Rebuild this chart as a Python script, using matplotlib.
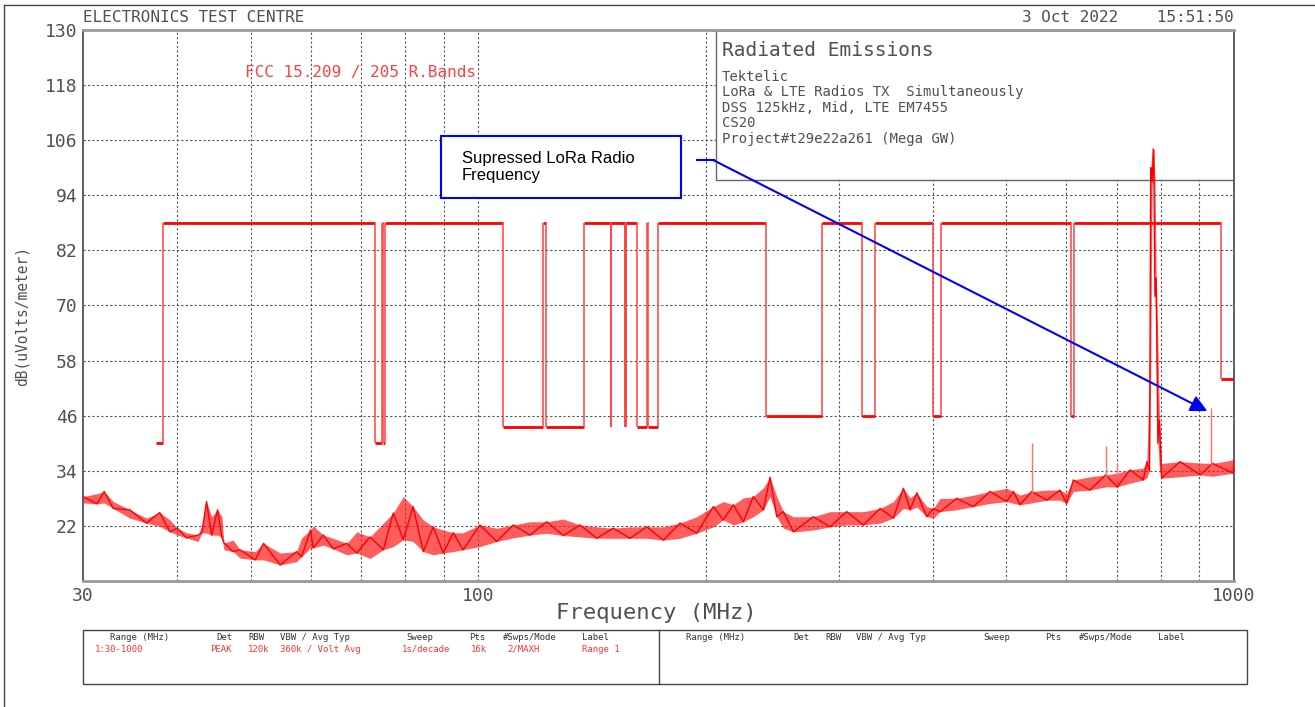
import numpy as np
import matplotlib.pyplot as plt
from matplotlib.patches import Rectangle
from matplotlib.lines import Line2D

W, H = 1315, 707
MONO = 'DejaVu Sans Mono'

trace_mhz = [30, 31.3, 32.0, 32.9, 34.6, 36.4, 37.9, 39.1, 40.0, 41.1, 42.6, 43.1,
             43.7, 44.4, 45.2, 45.8, 46.1, 47.4, 48.4, 50.7, 52.0, 54.7, 57.5, 58.4,
             60.0, 60.5, 62.4, 64.3, 67.0, 69.1, 71.9, 74.9, 77.2, 79.6, 82.0, 84.6,
             87.2, 89.9, 92.7, 95.5, 100.5, 105.8, 111.3, 117.1, 123.2, 129.6, 136.4,
             143.5, 150.9, 158.8, 167.1, 175.8, 184.9, 194.6, 204.7, 211.0, 217.6,
             224.3, 231.2, 238.4, 243.3, 248.3, 253.4, 261.2, 277.6, 292.1, 307.3,
             323.3, 340.3, 354.3, 365.2, 372.8, 380.5, 392.2, 400.1, 408.4, 429.6,
             452.1, 475.6, 500.4, 510.6, 521.1, 540, 565.2, 588.6, 600.6, 612.9,
             644.8, 676.6, 700.8, 728.5, 758.6, 767, 773, 776, 779, 783, 786, 789,
             793, 797, 802, 848.4, 901.9, 937, 997.8, 1000]
trace_lo = [27.0, 26.8, 27.0, 25.8, 23.7, 22.6, 21.9, 20.7, 20.0, 19.4, 18.6, 20.5,
            20.4, 20.0, 20.0, 19.5, 16.8, 16.4, 15.0, 14.6, 14.6, 13.5, 14.2, 15.3,
            17.2, 17.2, 17.8, 17.0, 15.7, 16.1, 14.9, 16.8, 17.5, 19.0, 18.6, 16.4,
            15.7, 16.1, 16.4, 16.8, 17.5, 18.6, 19.4, 20.0, 20.4, 19.9, 19.6,
            19.3, 19.3, 19.3, 19.3, 18.9, 19.3, 20.4, 21.8, 23.3, 22.2,
            22.9, 24.0, 25.5, 28.4, 24.0, 21.5, 20.7, 21.1, 21.8, 22.2,
            22.2, 22.6, 23.7, 25.8, 25.5, 26.1, 24.0, 23.7, 25.1, 25.5,
            26.2, 26.9, 27.3, 26.9, 26.6, 27.0, 27.6, 27.6, 26.9, 29.5,
            29.8, 30.5, 30.5, 31.3, 32.0, 32.5, 34.0, 55.0, 97.0, 96.0, 72.0, 58.0,
            40.0, 34.0, 32.4, 32.7, 33.1, 32.8, 33.5, 33.5]
trace_hi = [28.4, 29.0, 29.5, 27.3, 25.5, 23.7, 24.9, 23.3, 21.5, 20.5, 20.0, 22.2,
            27.3, 24.0, 25.5, 24.0, 18.3, 18.9, 16.8, 16.4, 18.2, 16.1, 16.4, 19.4,
            21.1, 22.0, 20.0, 19.3, 18.2, 20.7, 19.6, 22.6, 24.8, 28.4, 26.2, 23.3,
            21.8, 21.1, 20.5, 20.5, 22.2, 21.5, 22.2, 22.9, 22.9, 23.5, 22.2,
            21.8, 21.5, 21.8, 21.8, 21.8, 22.6, 24.0, 26.2, 27.3, 26.6,
            28.1, 28.4, 30.3, 32.6, 28.4, 25.1, 24.0, 24.0, 25.1, 25.1,
            25.1, 25.8, 27.3, 30.2, 28.1, 29.2, 26.2, 25.8, 28.0, 28.0,
            28.7, 29.5, 30.2, 29.5, 28.7, 29.5, 29.8, 29.8, 29.1, 32.0,
            32.7, 33.1, 33.5, 34.2, 34.6, 36.0, 57.0, 100.0, 104.5, 104.0, 98.0, 76.0,
            62.0, 45.0, 35.6, 36.0, 35.7, 35.6, 36.4, 36.4]

# narrow single-frequency spikes
spike_mhz = [540, 676.6, 700.8, 932.5]
spike_base = [28.5, 31.5, 32.5, 34.5]
spike_top = [40.0, 39.3, 35.6, 47.7]

# FCC 15.209 / 15.205 restricted-band limit line (band edges, level per band)
limit_edges = [37.5, 38.25, 73, 74.6, 74.8, 75.2, 108, 121.94, 123, 138, 149.9,
               150.05, 156.52475, 156.52525, 156.7, 156.9, 162.0125, 167.17, 167.72,
               173.2, 240, 285, 322, 335.4, 399.9, 410, 608, 614, 960, 1000]
limit_db = [40, 88, 40, 88, 40, 88, 43.5, 88, 43.5, 88, 43.5, 88, 43.5, 88, 43.5,
            88, 43.5, 88, 43.5, 88, 46, 88, 46, 88, 46, 88, 46, 88, 54]

y_ticks = [22, 34, 46, 58, 70, 82, 94, 106, 118, 130]
x_labels = [30, 100, 1000]
x_grid = [40, 50, 60, 70, 80, 90, 100, 200, 300, 400, 500, 600, 700, 800, 900]

info_title = 'Radiated Emissions'
info_lines = ['Tektelic', 'LoRa & LTE Radios TX  Simultaneously',
              'DSS 125kHz, Mid, LTE EM7455', 'CS20', 'Project#t29e22a261 (Mega GW)']

table_heads = ['Range (MHz)', 'Det', 'RBW', 'VBW / Avg Typ', 'Sweep', 'Pts',
               '#Swps/Mode', 'Label']
range1_vals = ['1:30-1000', 'PEAK', '120k', '360k / Volt Avg', '1s/decade', '16k',
               '2/MAXH', 'Range 1']

TXT = '#505050'


def fx(x):
    return x / W


def fy(y):
    return 1 - y / H


fig = plt.figure(figsize=(W / 100, H / 100), dpi=100)
ax = fig.add_axes([fx(83), fy(581), 1151 / W, 551 / H])
ax.set_xscale('log')
ax.set_xlim(30, 1000)
ax.set_ylim(10, 130)

grid_kw = dict(color='#555555', lw=0.8, ls=(0, (2, 2)), zorder=1)
for f in x_grid:
    ax.axvline(f, **grid_kw)
for v in y_ticks[:-1]:
    ax.axhline(v, **grid_kw)

ax.set_yticks(y_ticks)
ax.set_yticklabels([str(v) for v in y_ticks], fontfamily=MONO, fontsize=13, color=TXT)
ax.set_xticks(x_labels)
ax.set_xticklabels([str(v) for v in x_labels], fontfamily=MONO, fontsize=13, color=TXT)
ax.xaxis.set_minor_locator(plt.NullLocator())
ax.tick_params(length=0, pad=4)
for s in ['top', 'bottom']:
    ax.spines[s].set_color('#999999')
    ax.spines[s].set_linewidth(2)
for s in ['left', 'right']:
    ax.spines[s].set_color('#444444')
    ax.spines[s].set_linewidth(1.2)

# info box (the trace peak is drawn over it)
ax.add_patch(Rectangle((0.55, 0.728), 0.45, 0.272, transform=ax.transAxes,
                       facecolor='white', edgecolor='#666666', lw=1, zorder=2))
ax.text(0.555, 0.963, info_title, transform=ax.transAxes, fontfamily=MONO,
        fontsize=14, color=TXT, va='center', zorder=3)
for i, line in enumerate(info_lines):
    ax.text(0.555, 0.915 - i * 0.028, line, transform=ax.transAxes, fontfamily=MONO,
            fontsize=10, color=TXT, va='center', zorder=3)

# limit line: bold levels, thin light risers
ax.hlines(limit_db, limit_edges[:-1], limit_edges[1:], color='#ff0000', lw=2, zorder=4)
ax.vlines(limit_edges[1:-1], limit_db[:-1], limit_db[1:], color='#ff4040', lw=1.1, zorder=4)

# trace
f = np.array(trace_mhz)
lo = np.array(trace_lo)
hi = np.array(trace_hi)
ax.fill_between(f, lo, hi, color='#ff1a1a', alpha=0.7, lw=0, zorder=4)
zig = np.where(np.arange(len(f)) % 2 == 0, hi, lo)
ax.plot(f, zig, color='#ff0000', lw=1.0, zorder=5)
ax.vlines(spike_mhz, spike_base, spike_top, color='#ff7070', lw=1.0, zorder=5)

ax.text(0.1407, 0.922, 'FCC 15.209 / 205 R.Bands', transform=ax.transAxes,
        fontfamily=MONO, fontsize=11.5, color='#ff4040', va='center')

# annotation arrow
ax.plot([195, 205], [101.6, 101.6], color='#0000ff', lw=1.5, zorder=6)
ax.annotate('', xy=(922, 47.0), xytext=(205, 101.6),
            arrowprops=dict(arrowstyle='-|>', color='#0000ff', lw=1.5,
                            mutation_scale=25, shrinkA=0, shrinkB=0), zorder=6)
fig.add_artist(Rectangle((fx(441), fy(198)), 240 / W, 62 / H, transform=fig.transFigure,
                         facecolor='white', edgecolor='#0000ff', lw=1.5))
fig.text(fx(462), fy(167), 'Supressed LoRa Radio\nFrequency', fontfamily='Liberation Sans',
         fontsize=12, color='black', va='center', linespacing=1.15)

# header and axis titles
fig.text(fx(83), fy(18), 'ELECTRONICS TEST CENTRE', fontfamily=MONO, fontsize=11.5,
         color=TXT, va='center')
fig.text(fx(1234), fy(18), '3 Oct 2022    15:51:50', fontfamily=MONO, fontsize=11.5,
         color=TXT, va='center', ha='right')
fig.text(fx(656), fy(613), 'Frequency (MHz)', fontfamily=MONO, fontsize=16,
         color=TXT, va='center', ha='center')
fig.text(fx(22), fy(316), 'dB(uVolts/meter)', fontfamily=MONO, fontsize=10.5,
         color=TXT, va='center', ha='center', rotation=90)

# page frame
fig.add_artist(Line2D([fx(4), 1], [fy(5), fy(5)], color='#444444', lw=1))
fig.add_artist(Line2D([fx(4), fx(4)], [fy(5), 0], color='#444444', lw=1))

# settings table
fig.add_artist(Rectangle((fx(83), fy(684)), (1247 - 83) / W, 54 / H,
                         transform=fig.transFigure, facecolor='none',
                         edgecolor='#444444', lw=1))
fig.add_artist(Line2D([fx(659), fx(659)], [fy(630), fy(684)], color='#444444', lw=1))
head_x_left = [110, 216, 248, 280, 406, 469, 503, 582]
head_x_right = [686, 793, 825, 856, 983, 1045, 1079, 1158]
val_x = [95, 210, 248, 280, 402, 471, 507, 582]
for name, xl, xr in zip(table_heads, head_x_left, head_x_right):
    fig.text(fx(xl), fy(637), name, fontfamily=MONO, fontsize=6.5, color='#333333', va='center')
    fig.text(fx(xr), fy(637), name, fontfamily=MONO, fontsize=6.5, color='#333333', va='center')
for val, xv in zip(range1_vals, val_x):
    fig.text(fx(xv), fy(649), val, fontfamily=MONO, fontsize=6.5, color='#ff3333', va='center')

fig.savefig('out.png', dpi=100)
